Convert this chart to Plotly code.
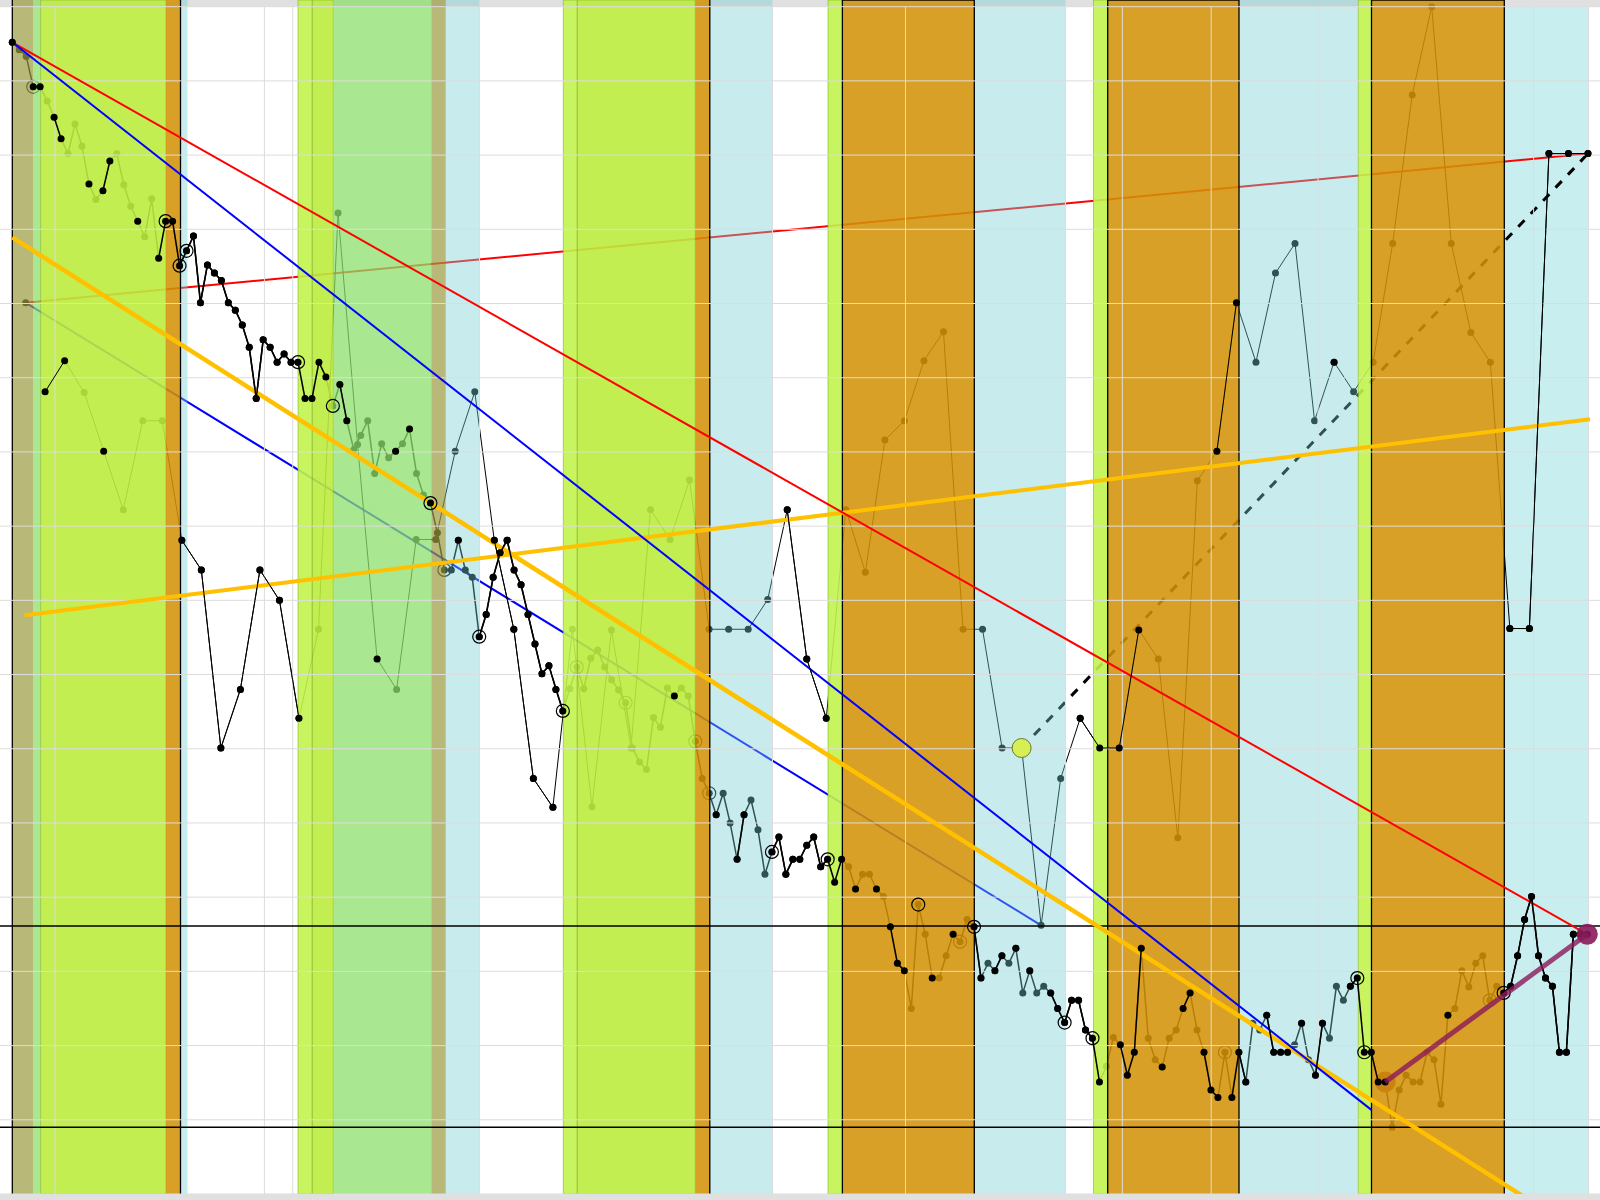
import plotly.graph_objects as go

# main series, one close per session
main_close = [
    15.52, 15.42, 15.33, 14.92, 14.92, 14.73, 14.51, 14.22, 14.02, 14.42,
    14.12, 13.61, 13.40, 13.52, 13.92, 14.02, 13.60, 13.31, 13.11, 12.90,
    13.41, 12.61, 13.11, 13.11, 12.51, 12.71, 12.91, 12.01, 12.52, 12.41,
    12.31, 12.01, 11.91, 11.71, 11.41, 10.72, 11.51, 11.41, 11.21, 11.32,
    11.21, 11.21, 10.72, 10.72, 11.21, 11.01, 10.62, 10.91, 10.42, 10.03,
    10.22, 10.42, 9.71, 10.11, 9.92, 10.01, 10.11, 10.31, 9.71, 9.42,
    9.31, 8.91, 8.41, 8.41, 8.81, 8.41, 8.31, 7.51, 7.81, 8.31,
    8.64, 8.81, 8.41, 8.21, 7.81, 7.41, 7.01, 7.12, 6.80, 6.51,
    6.81, 7.10, 6.81, 7.22, 7.33, 7.10, 6.93, 6.79, 6.62, 6.01,
    5.82, 5.72, 6.42, 6.29, 6.82, 6.71, 6.82, 6.71, 6.10, 5.60,
    5.40, 5.11, 5.40, 5.00, 4.51, 5.11, 5.31, 4.91, 4.31, 4.61,
    4.81, 4.31, 4.51, 4.51, 4.70, 4.81, 4.41, 4.51, 4.20, 4.51,
    4.41, 4.11, 4.31, 4.31, 4.11, 4.01, 3.60, 3.11, 3.01, 2.50,
    3.90, 3.50, 2.91, 2.91, 3.21, 3.50, 3.40, 3.70, 3.60, 2.91,
    3.11, 3.01, 3.21, 3.11, 3.31, 2.71, 3.01, 2.71, 2.80, 2.71,
    2.50, 2.31, 2.61, 2.61, 2.21, 2.10, 1.51, 1.72, 2.11, 2.01,
    1.60, 1.91, 3.31, 2.10, 1.81, 1.71, 2.10, 2.21, 2.50, 2.71,
    2.21, 1.91, 1.40, 1.30, 1.91, 1.30, 1.91, 1.51, 2.30, 2.21,
    2.41, 1.91, 1.91, 1.91, 2.01, 2.30, 1.81, 1.60, 2.30, 2.10,
    2.80, 2.61, 2.80, 2.91, 1.91, 1.91, 1.51, 1.51, 0.90, 1.40,
    1.60, 1.51, 1.51, 1.91, 1.81, 1.21, 2.41, 2.50, 3.01, 2.79,
    3.11, 3.21, 2.61, 2.80, 2.71, 2.80, 3.21, 3.70, 4.01, 3.21,
    2.91, 2.80, 1.91, 1.91, 3.50, 3.50, 3.50,
]
# B = drawn above the shading, U = drawn under it
main_layer = (
    "B U U B B U B B U U  U B U B B U U U B U  U B B B B B B B B B  B B B B B B B B B B "
    "B B B B B B U B B U  U U U U U B U B U U  B U U U B U U B B B  B B B B B B B B B B "
    "U U U U U U U U U U  U U U U U B U U U U  U B U U B B U U U B  B B B B B B B B B B "
    "U B U U B U B B B U  U U B U U B U U B B  U B B U B U B U U B  B B B B B B B U U B "
    "B B B U U B U U B B  U B B B U B B B U U  B B B B U B U B B U  U U B B B B B B U U "
    "U U U U U U B U U U  U U U U B B B B B B  B B B B B B B"
).split()
main_rings_top = [22, 24, 25, 41, 46, 60, 67, 79, 109, 117, 130, 138, 151, 155, 193, 194, 214]
main_rings_low = [3, 62, 81, 88, 98, 100, 136, 174, 212]

# slower swing series
swing_close = [
    10.81, 11.23, 10.80, 10.01, 9.22, 10.42, 10.42, 8.81, 8.41, 6.01,
    6.80, 8.41, 8.00, 6.41, 7.61, 13.22, 10.10, 7.21, 6.80, 8.82,
    8.82, 10.01, 10.81, 8.81, 7.61, 5.60, 5.21, 7.61, 5.22, 7.60,
    6.01, 9.22, 8.82, 9.62, 7.61, 7.61, 7.61, 8.01, 9.22, 7.21,
    6.41, 9.22, 8.38, 10.16, 10.42, 11.23, 11.62, 7.61, 7.61, 6.01,
    6.01, 3.62, 5.60, 6.41, 6.01, 6.01, 7.60, 7.21, 4.80, 9.61,
    10.01, 12.01, 11.21, 12.41, 12.81, 10.42, 11.21, 10.81, 11.21, 12.81,
    14.81, 16.00, 12.81, 11.61, 11.21, 7.62, 7.62, 14.02, 14.02, 14.02,
]
swing_layer = (
    "B B U B U U U B B B  B B B B U U U B U U  U U U B B B B U U U "
    "U U U U U U U U B B  B U U U U U U U U U  U U U B B B B U U U "
    "B B U U U U B U U U  U U U U U B B B B B"
).split()

main_start, main_step = 12.3, 6.969
swing_start, swing_step = 45.1, 19.53

pivot = (25.7, 12.01)
blue_fall_end = (1371.7, 1.13)
gold_fall = ([12.3, 1588.6], [12.89, -0.59])
gold_rise = ([24.5, 1590.0], [7.80, 10.44])
levels = [3.61, 0.90]
purple_from = 197
lime_signal = 50

band_start = [12.3, 33.5, 40.6, 166.0, 180.5, 298.0, 312.3, 333.3, 431.3, 445.8,
              563.3, 577.3, 695.3, 709.8, 828.0, 842.4, 974.3, 1093.5, 1107.7, 1239.0,
              1358.3, 1371.5, 1504.3]
band_end = [33.5, 40.6, 166.0, 180.5, 187.5, 312.3, 333.3, 431.3, 445.8, 479.5,
            577.3, 695.3, 709.8, 772.5, 842.4, 974.3, 1065.5, 1107.7, 1239.0, 1358.3,
            1371.5, 1504.3, 1588.5]
band_kind = ["khaki", "green", "lime", "orange", "cyan", "lime_light", "lime", "green", "khaki", "cyan",
             "lime_light", "lime", "orange", "cyan", "lime_light", "orange", "cyan", "lime_light", "orange", "cyan",
             "lime_light", "orange", "cyan_late"]

grid_t = [55, 264.4, 292.7, 479.5, 772.5, 905.5, 1065.5, 1122.3, 1211.2, 1318, 1533.6, 1588.6]
grid_v = list(range(0, 17))

# ---- style ----
X_RANGE = [0, 1600]
Y_RANGE = [-0.081, 16.09]
BAND_FILL = {
    "lime": "rgba(188,236,62,0.9)",
    "lime_light": "rgba(194,244,78,0.9)",
    "orange": "rgba(211,146,7,0.87)",
    "cyan": "rgba(117,208,212,0.4)",
    "green": "rgba(140,224,108,0.75)",
    "khaki": "rgba(154,154,62,0.7)",
}
STRIP = "#e0e0e0"

main_x = [main_start + main_step * i for i in range(len(main_close))]
swing_x = [swing_start + swing_step * j for j in range(len(swing_close))]


def segments(xs, ys, flags):
    sx, sy = [], []
    for k in range(len(xs) - 1):
        if flags[k] == "B" and flags[k + 1] == "B":
            sx += [xs[k], xs[k + 1], None]
            sy += [ys[k], ys[k + 1], None]
    return sx, sy


def pick(xs, ys, flags):
    return ([x for x, f in zip(xs, flags) if f == "B"],
            [y for y, f in zip(ys, flags) if f == "B"])


def line(x, y, color, width, dash="solid"):
    return go.Scatter(x=x, y=y, mode="lines", line=dict(color=color, width=width, dash=dash),
                      hoverinfo="skip")


fig = go.Figure()

# ---- under the shading ----
fig.add_trace(line([pivot[0], swing_x[-1]], [pivot[1], swing_close[-1]], "red", 2))
fig.add_trace(line([pivot[0], swing_x[51]], [pivot[1], swing_close[51]], "blue", 2))
fig.add_trace(line([swing_x[lime_signal], swing_x[-1]], [swing_close[lime_signal], swing_close[-1]],
                   "black", 3, "dash"))
fig.add_trace(go.Scatter(x=swing_x, y=swing_close, mode="lines+markers",
                         line=dict(color="black", width=1), marker=dict(color="black", size=7),
                         hoverinfo="skip"))
fig.add_trace(go.Scatter(x=main_x, y=main_close, mode="lines+markers",
                         line=dict(color="black", width=1.5), marker=dict(color="black", size=7),
                         hoverinfo="skip"))
fig.add_trace(go.Scatter(x=[main_x[i] for i in main_rings_low], y=[main_close[i] for i in main_rings_low],
                         mode="markers", hoverinfo="skip",
                         marker=dict(symbol="circle-open", size=13, color="black", line=dict(width=1.2))))
fig.add_trace(go.Scatter(x=[pivot[0]], y=[pivot[1]], mode="markers", hoverinfo="skip",
                         marker=dict(color="black", size=7)))
fig.add_trace(go.Scatter(x=[main_x[purple_from]], y=[main_close[purple_from]], mode="markers",
                         hoverinfo="skip", marker=dict(color="#8b1a5a", size=21)))

# ---- shading bands ----
shapes = [
    dict(type="rect", xref="x", yref="y", x0=X_RANGE[0], x1=X_RANGE[1], y0=16, y1=Y_RANGE[1],
         fillcolor=STRIP, line=dict(width=0), layer="below"),
]
edge_x, edge_y = [], []
for k, (x0, x1, kind) in enumerate(zip(band_start, band_end, band_kind)):
    if kind == "cyan_late":
        shapes.append(dict(type="rect", xref="x", yref="y", x0=x0, x1=x1, y0=0, y1=16,
                           fillcolor="#c9eef0", line=dict(width=0), layer="below"))
        continue
    edge = "rgba(130,180,40,0.6)" if kind.startswith("lime") else "rgba(0,0,0,0)"
    fig.add_trace(go.Scatter(x=[x0, x1, x1, x0, x0], y=[0, 0, Y_RANGE[1], Y_RANGE[1], 0],
                             mode="lines", fill="toself", fillcolor=BAND_FILL[kind],
                             line=dict(color=edge, width=1), hoverinfo="skip"))
    if kind == "orange":
        if x1 - x0 > 60:
            edge_x += [x0, x0, x1, x1, None]
            edge_y += [0, Y_RANGE[1], Y_RANGE[1], 0, None]
        else:
            edge_x += [x1, x1, None]
            edge_y += [0, Y_RANGE[1], None]
    if k == 0:
        edge_x += [x0, x0, None]
        edge_y += [0, Y_RANGE[1], None]
fig.add_trace(line(edge_x, edge_y, "black", 1.3))

# grid drawn over the shading
gx, gy = [], []
for v in grid_v:
    gx += [X_RANGE[0], X_RANGE[1], None]
    gy += [v, v, None]
for t in grid_t:
    gx += [t, t, None]
    gy += [0, 16, None]
fig.add_trace(line(gx, gy, "#dcdcdc", 1))

# ---- above the shading ----
for lv in levels:
    fig.add_trace(line(X_RANGE, [lv, lv], "black", 1.5))
fig.add_trace(line(gold_fall[0], gold_fall[1], "#ffc000", 4.5))
fig.add_trace(line(gold_rise[0], gold_rise[1], "#ffc000", 4))
fig.add_trace(line([main_x[0], main_x[-1]], [main_close[0], main_close[-1]], "red", 2))
fig.add_trace(line([main_x[0], blue_fall_end[0]], [main_close[0], blue_fall_end[1]], "blue", 2))

sx, sy = segments(swing_x, swing_close, swing_layer)
fig.add_trace(line(sx, sy, "black", 1))
px, py = pick(swing_x, swing_close, swing_layer)
fig.add_trace(go.Scatter(x=px, y=py, mode="markers", marker=dict(color="black", size=7), hoverinfo="skip"))

sx, sy = segments(main_x, main_close, main_layer)
fig.add_trace(line(sx, sy, "black", 1.5))
px, py = pick(main_x, main_close, main_layer)
fig.add_trace(go.Scatter(x=px, y=py, mode="markers", marker=dict(color="black", size=7), hoverinfo="skip"))
fig.add_trace(go.Scatter(x=[main_x[i] for i in main_rings_top], y=[main_close[i] for i in main_rings_top],
                         mode="markers", hoverinfo="skip",
                         marker=dict(symbol="circle-open", size=13, color="black", line=dict(width=1.2))))

fig.add_trace(line([main_x[purple_from], main_x[-1]], [main_close[purple_from], main_close[-1]],
                   "rgba(139,26,90,0.8)", 5))
fig.add_trace(go.Scatter(x=[main_x[-1]], y=[main_close[-1]], mode="markers", hoverinfo="skip",
                         marker=dict(color="rgba(139,26,90,0.9)", size=21)))
fig.add_trace(go.Scatter(x=[swing_x[lime_signal]], y=[swing_close[lime_signal]], mode="markers",
                         hoverinfo="skip",
                         marker=dict(color="#d6ef55", size=19, line=dict(color="#6a7a30", width=1))))

# bottom strip sits on top of everything
fig.add_trace(go.Scatter(x=[X_RANGE[0], X_RANGE[1], X_RANGE[1], X_RANGE[0], X_RANGE[0]],
                         y=[Y_RANGE[0], Y_RANGE[0], 0, 0, Y_RANGE[0]], mode="lines", fill="toself",
                         fillcolor=STRIP, line=dict(width=0), hoverinfo="skip"))

fig.update_layout(
    width=1600, height=1200,
    margin=dict(l=0, r=0, t=0, b=0),
    paper_bgcolor="white", plot_bgcolor="white",
    showlegend=False,
    shapes=shapes,
    xaxis=dict(range=X_RANGE, visible=False, showgrid=False, zeroline=False),
    yaxis=dict(range=Y_RANGE, visible=False, showgrid=False, zeroline=False),
)

# drop the page's default body margin so the figure sits at the window corner
fig.write_html("out.html", config={"displayModeBar": False},
               post_script="document.body.style.margin = '0';")
